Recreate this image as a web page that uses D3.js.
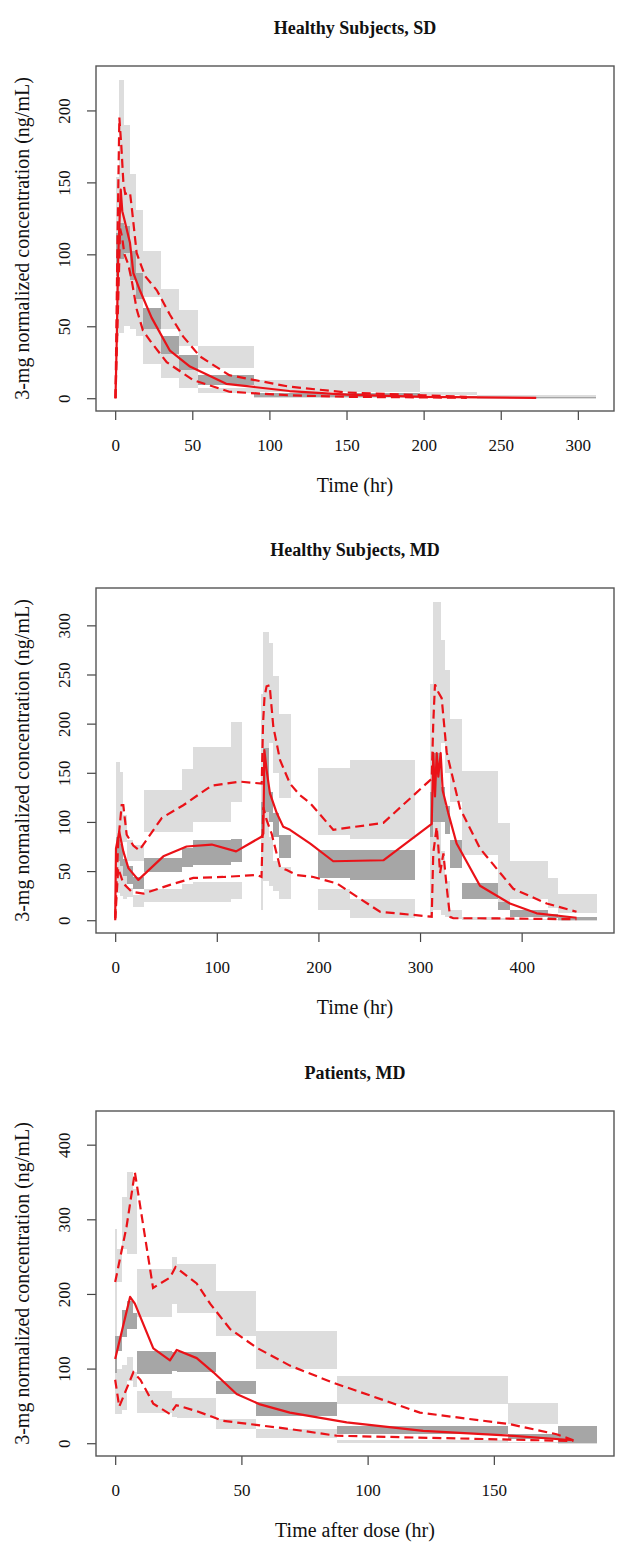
<!DOCTYPE html>
<html><head><meta charset="utf-8">
<script src="https://cdn.jsdelivr.net/npm/d3@7"></script>
<style>body{margin:0;background:#fff}svg{display:block}</style>
</head><body>
<svg id="c" width="617" height="1543"></svg>
<script>
// ---------- Panel 1: Healthy Subjects, SD ----------
const sdTitle = "Healthy Subjects, SD";
const sdXLabel = "Time (hr)";
const sdXLim = [0, 311];
const sdYLim = [0, 222];
const sdXTicks = [0, 50, 100, 150, 200, 250, 300];
const sdYTicks = [0, 50, 100, 150, 200];
const sdBinStart = [0.5, 2.6, 5.5, 9.6, 13.5, 17.8, 29.7, 41.6, 53.5, 90, 197.7, 234.6];
const sdBinEnd   = [2.6, 5.5, 9.6, 13.5, 17.8, 29.7, 41.6, 53.5, 90, 197.7, 234.6, 312];
const sdP5Lo  = [43, 45, 50, 48, 43, 24, 14, 7, 3.5, 0, 0, 0];
const sdP5Hi  = [85, 97, 101, 82, 69, 48, 31, 19.6, 7, 1, 0.4, 0.2];
const sdP50Lo = [85, 97, 101, 82, 69, 48, 31, 19.6, 9, 1, 0.4, 0.2];
const sdP50Hi = [115, 122, 120, 102, 87, 63, 43, 30, 16, 3.5, 1.8, 0.8];
const sdP95Lo = [115, 122, 120, 102, 87, 70, 48, 36, 21, 4.5, 2.2, 0.8];
const sdP95Hi = [154, 221, 190, 156, 131, 102, 76, 61, 36, 12.6, 4.5, 2.2];
const sdMedT = [0.2, 1, 2, 3.6, 4.6, 6, 9.6, 11.8, 16, 23.6, 35.5, 48.5, 72, 113, 150, 200, 273];
const sdMedC = [0, 40, 100, 145, 130, 124, 108, 87, 75, 56, 33, 22, 10, 5, 2.5, 1, 0.3];
const sdHiT = [0.2, 1.5, 2.7, 4, 5.3, 6.5, 9.6, 11, 13.9, 19.3, 27, 35.5, 44, 55, 74, 113, 150, 200, 228];
const sdHiC = [0, 110, 195, 175, 150, 142, 143, 130, 101, 85, 75, 58, 43, 29, 16, 8, 4, 2, 1];
const sdLoT = [0.2, 2, 3.2, 4.5, 6, 8.5, 10.7, 13.9, 18, 22.6, 33.4, 50.6, 74, 113, 150, 228];
const sdLoC = [0, 70, 118, 112, 100, 93, 82, 62, 47, 40, 25, 12.6, 4.5, 2, 1, 0.3];

// ---------- Panel 2: Healthy Subjects, MD ----------
const mdTitle = "Healthy Subjects, MD";
const mdXLabel = "Time (hr)";
const mdXLim = [0, 472];
const mdYLim = [0, 325];
const mdXTicks = [0, 100, 200, 300, 400];
const mdYTicks = [0, 50, 100, 150, 200, 250, 300];
const mdBinStart = [0.8, 4.7, 8, 12, 17.8, 28.6, 65.4, 76.9, 113.7, 143.5, 145.8, 151.7, 155.6, 161.5, 200, 231, 310, 313, 321, 324.6, 329.5, 341, 377, 388.5, 426, 436];
const mdBinEnd   = [4.7, 8, 12, 17.8, 28.6, 65.4, 76.9, 113.7, 124.5, 145.8, 151.7, 155.6, 161.5, 172.7, 231, 295, 313, 321, 324.6, 329.5, 341, 377, 388.5, 426, 436, 474];
const mdP5Lo  = [28, 25, 22, 24, 13, 19, 19, 19, 22, 10, 40, 35, 30, 22, 10, 2, 3, 10, 5, 3, 1, 0.5, 0, 0, 0, 0];
const mdP5Hi  = [60, 55, 45, 33, 26, 32, 37, 39, 39, 85, 110, 85, 60, 54, 32, 22, 85, 100, 70, 40, 10, 3, 2, 1, 1, 0.5];
const mdP50Lo = [60, 55, 45, 37, 32, 49, 54, 56, 59, 85, 110, 100, 85, 63, 43, 41, 85, 100, 100, 88, 53, 22, 10, 3.6, 2, 0.2];
const mdP50Hi = [85, 78, 62, 55, 44, 63, 73, 82, 83, 120, 175, 130, 109, 87, 71, 71, 130, 170, 136, 116, 82, 38, 19, 10, 6, 3.6];
const mdP95Lo = [85, 78, 80, 60, 60, 90, 90, 100, 120, 120, 175, 180, 150, 124, 87, 83, 130, 170, 180, 150, 120, 66, 19, 22, 12, 7];
const mdP95Hi = [161, 151, 107, 82, 77, 132, 154, 176, 202, 230, 293, 282, 248, 210, 155, 163, 240, 324, 285, 255, 205, 152, 99, 60, 43, 27];
const mdMedT = [0, 0.8, 4, 8, 13, 22.8, 47.4, 70.3, 95, 119, 144, 145.8, 146.8, 149, 152.3, 159, 165.4, 172, 192, 214.6, 263.9, 311.5, 313, 314.7, 316.4, 318, 320.3, 322.3, 327.8, 336, 359, 388.5, 414.8, 454];
const mdMedC = [2, 73, 90, 70, 53, 41, 65, 75, 77, 70, 85, 88, 173, 153, 129, 109, 95, 92, 78, 60, 61, 98, 170, 126, 170, 146, 170, 132, 109, 78, 35, 17, 7, 2.5];
const mdHiT = [0, 3, 6.4, 8, 11.3, 17.8, 23.7, 45.8, 67, 95, 122.8, 144.2, 145.5, 147, 149, 152, 155.6, 162.2, 172, 182, 192, 214.6, 263.9, 311.5, 313, 314.7, 318, 321.3, 326.2, 339.3, 359, 391.8, 424.7, 454];
const mdHiC = [2, 80, 117, 117, 87, 76, 71, 104, 117, 137, 141, 139, 200, 228, 238, 239, 197, 163, 139, 127, 119, 92, 99, 144, 200, 240, 232, 226, 171, 114, 73, 32, 17, 8.6];
const mdLoT = [0, 3, 8, 16.2, 27.7, 54, 76.9, 106.4, 139.3, 144, 145.8, 149, 154, 162.2, 168.8, 178.6, 195, 218, 260.6, 311.5, 313, 316.4, 318, 319.7, 323, 326.2, 329.5, 332.7, 359, 454];
const mdLoC = [0, 53, 37.5, 29, 27, 36, 43, 44, 46, 44, 115, 102, 88, 54, 51, 46, 44, 37.5, 8.6, 3.6, 68, 95, 75, 48, 68, 34, 3.6, 2, 2, 1];

// ---------- Panel 3: Patients, MD ----------
const ptTitle = "Patients, MD";
const ptXLabel = "Time after dose (hr)";
const ptXLim = [0, 190];
const ptYLim = [0, 428];
const ptXTicks = [0, 50, 100, 150];
const ptYTicks = [0, 100, 200, 300, 400];
const ptBinStart = [0, 0.6, 2.6, 4.8, 6.9, 8.8, 22.4, 24.6, 40, 55.8, 87.7, 155.7, 175.5];
const ptBinEnd   = [0.6, 2.6, 4.8, 6.9, 8.8, 22.4, 24.6, 40, 55.8, 87.7, 155.7, 175.5, 190.7];
const ptP5Lo  = [39, 39, 45, 84, 75, 41, 35, 34, 19, 7.6, 0.5, 0, 0];
const ptP5Hi  = [94, 99, 105, 115, 95, 70, 61, 61, 32, 18.8, 4, 2, 0.5];
const ptP50Lo = [94, 124, 142, 153, 153, 93, 97, 95, 66, 37, 12, 5, 0.4];
const ptP50Hi = [144, 144, 178, 190, 174, 124, 122, 122, 84, 55, 23, 12, 23];
const ptP95Lo = [140, 216, 260, 254, 254, 169, 187, 175, 143, 99, 52, 25.5, 12];
const ptP95Hi = [287, 260, 330, 363, 340, 234, 249, 240, 204, 151, 90, 54.5, 23];
const ptMedT = [0, 5.9, 7.8, 15.1, 21.7, 24.4, 32.3, 38.9, 48.1, 57.4, 69.2, 91.7, 122, 157.7, 181.5];
const ptMedC = [113, 196, 187, 127, 111, 125, 114, 95, 66, 52, 41, 28, 16.5, 9.8, 4];
const ptHiT = [0, 4.5, 7.8, 15, 21.7, 23.9, 32.3, 37.6, 45.5, 56, 69.2, 86.4, 120.7, 156.4, 174.9, 181.5];
const ptHiC = [216, 290, 363, 208, 222, 236, 214, 187, 153, 128, 104, 81, 41, 25.5, 12, 4];
const ptLoT = [0, 1.6, 7.2, 10, 15.1, 21.7, 24.2, 32.3, 42.8, 69.2, 87.7, 131.3, 181.5];
const ptLoC = [85, 49, 95, 85, 53, 39, 51, 43, 30, 19, 10, 6.7, 3];

const yLabel = "3-mg normalized concentration (ng/mL)";

// ---------- drawing ----------
const svg = d3.select("#c");
const LIGHT = "#dddddd", DARK = "#a6a6a6", RED = "#ea1218";
const BOX_L = 96, BOX_R = 614, BOX_H = 345;
const SERIF = "'Liberation Serif','Times New Roman',serif";

function ext(lim) { const r = lim[1] - lim[0]; return [lim[0] - 0.04 * r, lim[1] + 0.04 * r]; }

function panel(top, p) {
  const bottom = top + BOX_H;
  const x = d3.scaleLinear().domain(ext(p.xLim)).range([BOX_L, BOX_R]);
  const y = d3.scaleLinear().domain(ext(p.yLim)).range([bottom, top]);
  const g = svg.append("g");
  const clipId = "clip" + top;
  g.append("clipPath").attr("id", clipId).append("rect")
    .attr("x", BOX_L).attr("y", top).attr("width", BOX_R - BOX_L).attr("height", BOX_H);
  const plot = g.append("g").attr("clip-path", `url(#${clipId})`);

  const bins = p.bs.map((s, i) => ({ s, e: p.be[i], p5: [p.p5lo[i], p.p5hi[i]], p50: [p.p50lo[i], p.p50hi[i]], p95: [p.p95lo[i], p.p95hi[i]] }));
  const rect = (sel, key, col) => sel.selectAll(null).data(bins).join("rect")
    .attr("x", d => x(d.s)).attr("width", d => Math.max(0.5, x(d.e) - x(d.s)))
    .attr("y", d => y(d[key][1])).attr("height", d => Math.max(0.8, y(d[key][0]) - y(d[key][1])))
    .attr("fill", col).attr("shape-rendering", "crispEdges");
  rect(plot.append("g"), "p5", LIGHT);
  rect(plot.append("g"), "p95", LIGHT);
  rect(plot.append("g"), "p50", DARK);

  const line = d3.line().x(d => x(d[0])).y(d => y(d[1]));
  const mk = (t, c) => t.map((v, i) => [v, c[i]]);
  plot.append("path").datum(mk(p.hiT, p.hiC)).attr("d", line).attr("fill", "none")
    .attr("stroke", RED).attr("stroke-width", 2.2).attr("stroke-dasharray", "9,5");
  plot.append("path").datum(mk(p.loT, p.loC)).attr("d", line).attr("fill", "none")
    .attr("stroke", RED).attr("stroke-width", 2.2).attr("stroke-dasharray", "9,5");
  plot.append("path").datum(mk(p.medT, p.medC)).attr("d", line).attr("fill", "none")
    .attr("stroke", RED).attr("stroke-width", 2.2).attr("stroke-linejoin", "round");

  // axes
  const xa = g.append("g").attr("transform", `translate(0,${bottom})`)
    .call(d3.axisBottom(x).tickValues(p.xTicks).tickSize(9).tickSizeOuter(0).tickFormat(d3.format("d")));
  const ya = g.append("g").attr("transform", `translate(${BOX_L},0)`)
    .call(d3.axisLeft(y).tickValues(p.yTicks).tickSize(9).tickSizeOuter(0).tickFormat(d3.format("d")));
  [xa, ya].forEach(a => {
    a.select(".domain").remove();
    a.selectAll(".tick line").attr("stroke", "#444").attr("stroke-width", 1.2);
    a.selectAll("text").attr("font-family", SERIF).attr("font-size", 17).attr("fill", "#111");
  });
  xa.selectAll("text").attr("y", 28).attr("dy", "0.71em");
  ya.selectAll("text").attr("x", null).attr("dy", null).attr("text-anchor", "middle")
    .attr("transform", "translate(-26,0) rotate(-90)");

  // box
  g.append("rect").attr("x", BOX_L).attr("y", top).attr("width", BOX_R - BOX_L).attr("height", BOX_H)
    .attr("fill", "none").attr("stroke", "#555").attr("stroke-width", 1.4);

  // texts
  g.append("text").attr("x", (BOX_L + BOX_R) / 2).attr("y", top - 32).attr("text-anchor", "middle")
    .attr("font-family", SERIF).attr("font-weight", "bold").attr("font-size", 18).attr("fill", "#111").text(p.title);
  g.append("text").attr("x", (BOX_L + BOX_R) / 2).attr("y", bottom + 81).attr("text-anchor", "middle")
    .attr("font-family", SERIF).attr("font-size", 20).attr("fill", "#111").text(p.xlabel);
  g.append("text").attr("transform", `translate(29,${top + BOX_H / 2}) rotate(-90)`).attr("text-anchor", "middle")
    .attr("font-family", SERIF).attr("font-size", 20).attr("fill", "#111").text(yLabel);
}

panel(66, { title: sdTitle, xlabel: sdXLabel, xLim: sdXLim, yLim: sdYLim, xTicks: sdXTicks, yTicks: sdYTicks,
  bs: sdBinStart, be: sdBinEnd, p5lo: sdP5Lo, p5hi: sdP5Hi, p50lo: sdP50Lo, p50hi: sdP50Hi, p95lo: sdP95Lo, p95hi: sdP95Hi,
  medT: sdMedT, medC: sdMedC, hiT: sdHiT, hiC: sdHiC, loT: sdLoT, loC: sdLoC });
panel(588, { title: mdTitle, xlabel: mdXLabel, xLim: mdXLim, yLim: mdYLim, xTicks: mdXTicks, yTicks: mdYTicks,
  bs: mdBinStart, be: mdBinEnd, p5lo: mdP5Lo, p5hi: mdP5Hi, p50lo: mdP50Lo, p50hi: mdP50Hi, p95lo: mdP95Lo, p95hi: mdP95Hi,
  medT: mdMedT, medC: mdMedC, hiT: mdHiT, hiC: mdHiC, loT: mdLoT, loC: mdLoC });
panel(1111, { title: ptTitle, xlabel: ptXLabel, xLim: ptXLim, yLim: ptYLim, xTicks: ptXTicks, yTicks: ptYTicks,
  bs: ptBinStart, be: ptBinEnd, p5lo: ptP5Lo, p5hi: ptP5Hi, p50lo: ptP50Lo, p50hi: ptP50Hi, p95lo: ptP95Lo, p95hi: ptP95Hi,
  medT: ptMedT, medC: ptMedC, hiT: ptHiT, hiC: ptHiC, loT: ptLoT, loC: ptLoC });
</script>
</body></html>
